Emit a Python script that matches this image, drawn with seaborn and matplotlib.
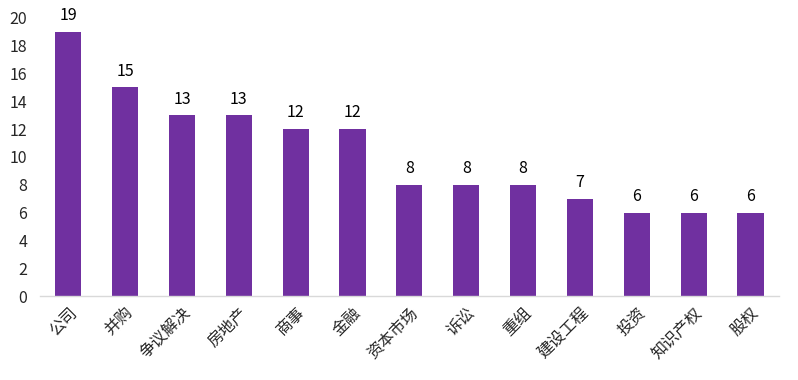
import matplotlib
matplotlib.use('Agg')
import matplotlib.pyplot as plt
import seaborn as sns
import pandas as pd

# Data
categories = ['公司', '并购', '争议解决', '房地产', '商事', '金融', '资本市场',
              '诉讼', '重组', '建设工程', '投资', '知识产权', '股权']
counts = [19, 15, 13, 13, 12, 12, 8, 8, 8, 7, 6, 6, 6]

df = pd.DataFrame({'category': categories, 'count': counts})

sns.set_style('white')
plt.rcParams['font.family'] = ['Noto Sans CJK SC', 'DejaVu Sans']

fig = plt.figure(figsize=(7.98, 3.8), dpi=100)
ax = fig.add_axes([0.050, 0.221, 0.926, 0.732])

sns.barplot(data=df, x='category', y='count', color='#7030A0',
            saturation=1, width=0.46, linewidth=0, ax=ax)

# value labels above bars
for i, v in enumerate(counts):
    ax.text(i, v + 0.55, str(v), ha='center', va='bottom', fontsize=11.5, color='#000000')

ax.set_ylim(0, 20)
ax.set_yticks(range(0, 21, 2))
ax.set_xlim(-0.5, len(categories) - 0.5)
ax.set_xlabel('')
ax.set_ylabel('')
ax.tick_params(axis='y', labelsize=11.5, length=0, pad=9)
ax.tick_params(axis='x', labelsize=11.5, length=0, pad=6)
plt.setp(ax.get_xticklabels(), rotation=45, ha='right', rotation_mode='anchor')

for s in ['top', 'right', 'left']:
    ax.spines[s].set_visible(False)
ax.spines['bottom'].set_color('#d9d9d9')
ax.spines['bottom'].set_linewidth(1)

fig.savefig('out.png', dpi=100)
